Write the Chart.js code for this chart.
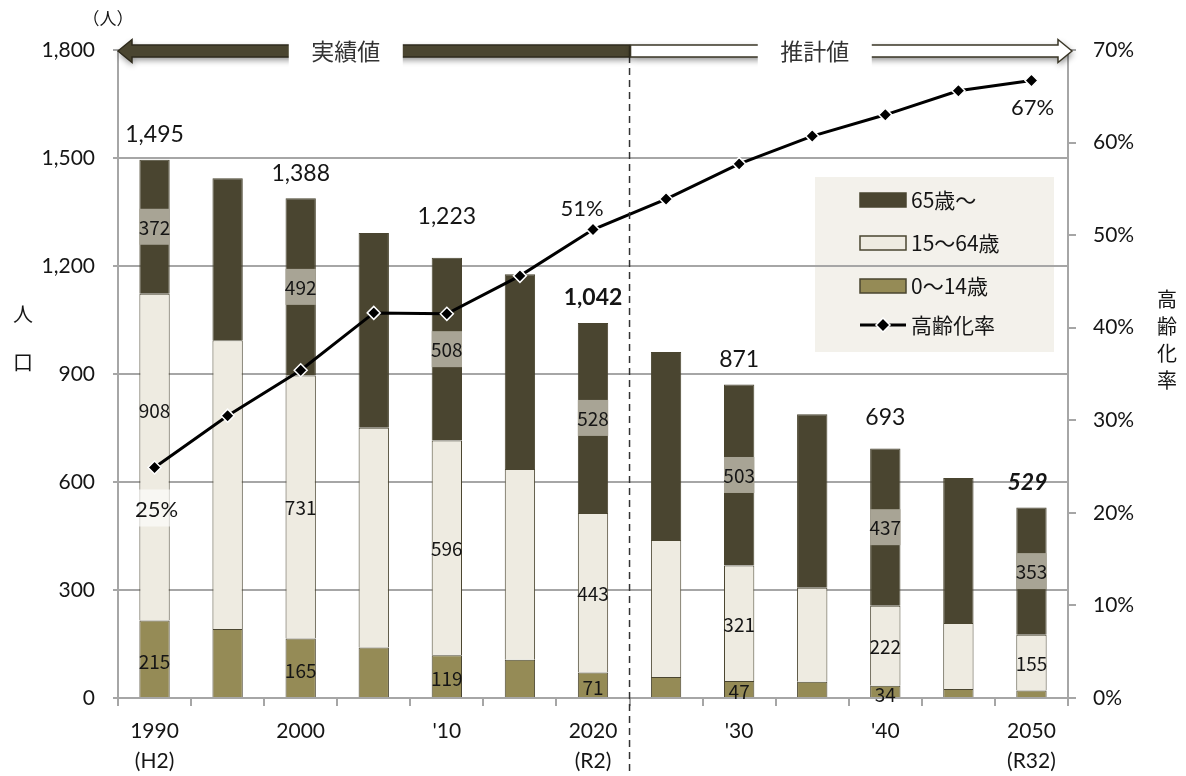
<!DOCTYPE html>
<html><head><meta charset="utf-8">
<script src="https://cdn.jsdelivr.net/npm/chart.js@4"></script>
<style>html,body{margin:0;padding:0;background:#fff}</style>
</head>
<body>
<canvas id="c" width="1186" height="776"></canvas>
<script>
const years = ['1990','1995','2000','2005','2010','2015','2020','2025','2030','2035','2040','2045','2050'];
const tickLabels = [['1990','(H2)'], '', '2000', '', "'10", '', ['2020','(R2)'], '', "'30", '', "'40", '', ['2050','(R32)']];
const age0_14 = [215,192,165,140,119,106,71,58,47,45,34,25,21];
const age15_64 = [908,802,731,611,596,530,443,381,321,261,222,183,155];
const age65 = [372,450,492,541,508,541,528,522,503,482,437,403,353];
const agingRate = [24.9,30.5,35.4,41.6,41.5,45.6,50.6,53.9,57.7,60.7,63.0,65.6,66.7];
const labelledYears = [0,2,4,6,8,10,12];
const rateLabelYears = [0,6,12];
const seriesNames = ['0～14歳','15～64歳','65歳～','高齢化率'];
const leftTitle = '（人）';
const leftAxisName = ['人','口'];
const rightAxisName = ['高','齢','化','率'];
const arrowTexts = ['実績値','推計値'];

const C65 = '#4a4530', C15 = '#eeebe1', C0 = '#958b56', EDGE = '#4a4530';
const GRID = '#a6a6a6';
const TXT = '#151515';

function fmt(n){ return n.toLocaleString('en-US'); }

const overlay = {
  id: 'overlay',
  beforeDraw(chart){
    const ctx = chart.ctx, a = chart.chartArea;
    ctx.save();
    ctx.fillStyle = '#f3f1eb';
    ctx.fillRect(a.right - 253, a.top + 127, 239, 175);
    ctx.restore();
  },
  afterDatasetsDraw(chart){
    const ctx = chart.ctx;
    const m0 = chart.getDatasetMeta(0).data, m1 = chart.getDatasetMeta(1).data,
          m2 = chart.getDatasetMeta(2).data, ml = chart.getDatasetMeta(3).data;
    ctx.save();
    ctx.textAlign = 'center'; ctx.textBaseline = 'middle';
    ctx.font = '19px "Noto Sans CJK JP"';
    labelledYears.forEach(i => {
      // 65+
      let el = m2[i], w = el.width, cy = (el.y + el.base)/2;
      ctx.fillStyle = '#a8a495';
      ctx.fillRect(el.x - w/2, cy - 18, w, 36);
      ctx.fillStyle = TXT;
      ctx.fillText(String(age65[i]), el.x, cy + 1);
      // 15-64
      el = m1[i]; cy = (el.y + el.base)/2 + (i === 0 ? -47 : 0);
      ctx.fillText(String(age15_64[i]), el.x, cy + 1);
      // 0-14
      if (i !== 12) {
        el = m0[i]; cy = (el.y + el.base)/2 + 3;
        ctx.fillText(String(age0_14[i]), el.x, cy);
      }
    });
    // totals
    labelledYears.forEach(i => {
      const el = m2[i];
      const tot = age0_14[i] + age15_64[i] + age65[i];
      const bold = (i === 6 || i === 12);
      ctx.font = (i === 12 ? 'italic ' : '') + (bold ? 'bold ' : '') + '23px Lato';
      ctx.fillStyle = TXT;
      const off = (i === 4) ? -41 : (i === 10 ? -31 : -25);
      ctx.fillText(fmt(tot), el.x + (i === 12 ? -4 : 0), el.y + off);
    });
    // rate labels
    ctx.font = '22px Lato';
    rateLabelYears.forEach(i => {
      const p = ml[i];
      const txt = Math.round(agingRate[i]) + '%';
      if (i === 0) {
        const w = m2[i].width;
        ctx.fillStyle = 'rgba(255,255,255,0.6)';
        ctx.fillRect(p.x - w/2 - 1, p.y + 22, w + 3, 37);
        ctx.fillStyle = TXT;
        ctx.fillText(txt, p.x + 2, p.y + 42);
      } else if (i === 6) {
        ctx.fillStyle = TXT;
        ctx.fillText(txt, p.x - 11, p.y - 21);
      } else {
        ctx.fillStyle = TXT;
        ctx.fillText(txt, p.x + 1, p.y + 27);
      }
    });
    ctx.restore();
  },
  afterDraw(chart){
    const ctx = chart.ctx, a = chart.chartArea, xs = chart.scales.x;
    const xDiv = (xs.getPixelForValue(6) + xs.getPixelForValue(7))/2;
    ctx.save();
    // dashed divider
    ctx.strokeStyle = '#333'; ctx.lineWidth = 1.5; ctx.setLineDash([7,5]);
    ctx.beginPath(); ctx.moveTo(xDiv, a.top + 6); ctx.lineTo(xDiv, chart.height); ctx.stroke();
    ctx.setLineDash([]);
    // arrows
    const yc = a.top + 1, sh = 6, hh = 11.5, hl = 14;
    function leftArrow(x0, x1){
      ctx.beginPath();
      ctx.moveTo(x0, yc); ctx.lineTo(x0 + hl, yc - hh); ctx.lineTo(x0 + hl, yc - sh);
      ctx.lineTo(x1, yc - sh); ctx.lineTo(x1, yc + sh); ctx.lineTo(x0 + hl, yc + sh);
      ctx.lineTo(x0 + hl, yc + hh); ctx.closePath();
    }
    function rightArrow(x0, x1){
      ctx.beginPath();
      ctx.moveTo(x1, yc); ctx.lineTo(x1 - hl, yc - hh); ctx.lineTo(x1 - hl, yc - sh);
      ctx.lineTo(x0, yc - sh); ctx.lineTo(x0, yc + sh); ctx.lineTo(x1 - hl, yc + sh);
      ctx.lineTo(x1 - hl, yc + hh); ctx.closePath();
    }
    ctx.shadowColor = 'rgba(0,0,0,0.45)'; ctx.shadowBlur = 6; ctx.shadowOffsetY = 3; ctx.shadowOffsetX = 1;
    ctx.lineWidth = 1.5; ctx.strokeStyle = '#2e2a1c';
    leftArrow(a.left, xDiv); ctx.fillStyle = C65; ctx.fill();
    ctx.shadowColor = 'rgba(0,0,0,0)'; ctx.stroke();
    ctx.shadowColor = 'rgba(0,0,0,0.45)';
    rightArrow(xDiv + 1, a.right + 4); ctx.fillStyle = '#fff'; ctx.fill();
    ctx.shadowColor = 'rgba(0,0,0,0)'; ctx.strokeStyle = '#3a3626'; ctx.stroke();
    ctx.shadowBlur = 0; ctx.shadowOffsetY = 0; ctx.shadowOffsetX = 0;
    // text boxes
    ctx.fillStyle = '#fff';
    const c1 = (a.left + xDiv)/2 - 28, c2 = (xDiv + a.right)/2 - 34;
    ctx.fillRect(c1 - 57, yc - 16, 114, 34);
    ctx.fillRect(c2 - 57, yc - 16, 114, 34);
    ctx.fillStyle = '#333'; ctx.textAlign = 'center'; ctx.textBaseline = 'middle';
    ctx.font = '23px "Noto Sans CJK JP"';
    ctx.fillText(arrowTexts[0], c1, yc);
    ctx.fillText(arrowTexts[1], c2, yc);
    // legend items
    const lx = a.right - 208, ly = a.top + 150, step = 43;
    const sw = [[C65, C65], [C15, EDGE], [C0, EDGE]];
    const names = [seriesNames[2], seriesNames[1], seriesNames[0], seriesNames[3]];
    ctx.font = '21px "Noto Sans CJK JP"'; ctx.textAlign = 'left';
    for (let k = 0; k < 4; k++) {
      const y = ly + k*step - (k === 3 ? 4 : 0);
      if (k < 3) {
        ctx.fillStyle = sw[k][0]; ctx.fillRect(lx, y - 7, 46, 14);
        ctx.strokeStyle = sw[k][1]; ctx.lineWidth = 1.5; ctx.strokeRect(lx, y - 7, 46, 14);
      } else {
        ctx.strokeStyle = '#000'; ctx.lineWidth = 3;
        ctx.beginPath(); ctx.moveTo(lx, y); ctx.lineTo(lx + 46, y); ctx.stroke();
        ctx.beginPath(); ctx.moveTo(lx + 23, y - 7); ctx.lineTo(lx + 30, y); ctx.lineTo(lx + 23, y + 7); ctx.lineTo(lx + 16, y); ctx.closePath();
        ctx.fillStyle = '#000'; ctx.fill(); ctx.strokeStyle = '#fff'; ctx.lineWidth = 1.5; ctx.stroke();
      }
      ctx.fillStyle = TXT;
      ctx.fillText(names[k], lx + 51, y);
    }
    // axis titles
    ctx.textAlign = 'center';
    ctx.font = '17px "Noto Sans CJK JP"';
    ctx.fillText(leftTitle, 108, 19);
    ctx.font = '20px "Noto Sans CJK JP"';
    ctx.fillText(leftAxisName[0], 23, 314);
    ctx.fillText(leftAxisName[1], 23, 362);
    rightAxisName.forEach((ch, k) => ctx.fillText(ch, 1167, 299 + k*27));
    ctx.restore();
  }
};

const barCommon = { stack: 'p', yAxisID: 'y', order: 2, barPercentage: 0.415, categoryPercentage: 1, borderWidth: 1, borderColor: EDGE };

new Chart(document.getElementById('c'), {
  type: 'bar',
  data: {
    labels: years,
    datasets: [
      Object.assign({ label: seriesNames[0], data: age0_14, backgroundColor: C0 }, barCommon),
      Object.assign({ label: seriesNames[1], data: age15_64, backgroundColor: C15 }, barCommon),
      Object.assign({ label: seriesNames[2], data: age65, backgroundColor: C65 }, barCommon),
      { type: 'line', label: seriesNames[3], data: agingRate, yAxisID: 'y2', order: 0,
        borderColor: '#000', borderWidth: 3, tension: 0,
        pointStyle: 'rectRot', pointRadius: 6.5, pointBackgroundColor: '#000',
        pointBorderColor: '#fff', pointBorderWidth: 1.5 }
    ]
  },
  options: {
    responsive: false, devicePixelRatio: 1, animation: false,
    layout: { padding: { top: 50, left: 0, right: 0, bottom: 0 } },
    plugins: { legend: { display: false }, tooltip: { enabled: false } },
    scales: {
      x: {
        stacked: true, offset: true,
        grid: { offset: true, drawOnChartArea: false, drawTicks: true, tickLength: 8, color: GRID, lineWidth: 2 },
        border: { color: GRID, width: 2 },
        ticks: { autoSkip: false, maxRotation: 0, minRotation: 0, padding: 10, color: TXT,
                 font: { family: 'Lato', size: 21, lineHeight: 1.43 },
                 callback: (v, i) => tickLabels[i] },
        afterFit(s){ s.height = 78; }
      },
      y: {
        stacked: true, position: 'left', min: 0, max: 1800,
        ticks: { stepSize: 300, padding: 18, color: TXT, font: { family: 'Lato', size: 21 },
                 callback: v => fmt(v) },
        grid: { color: c => (c.tick && c.tick.value === 1800) ? 'rgba(0,0,0,0)' : GRID,
                tickColor: GRID, lineWidth: 2, tickLength: 5 },
        border: { color: GRID, width: 2 },
        afterFit(s){ s.width = 118; }
      },
      y2: {
        position: 'right', min: 0, max: 70,
        ticks: { stepSize: 10, padding: 17, color: TXT, font: { family: 'Lato', size: 21 },
                 callback: v => v + '%' },
        grid: { drawOnChartArea: false, tickLength: 8, color: GRID, lineWidth: 2 },
        border: { color: GRID, width: 2 },
        afterFit(s){ s.width = 118; }
      }
    }
  },
  plugins: [overlay]
});
</script>
</body></html>
